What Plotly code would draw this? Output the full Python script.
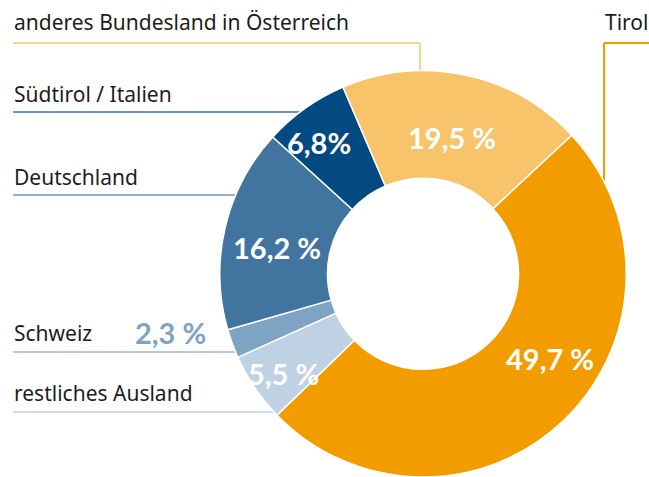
import plotly.graph_objects as go

W, H = 649, 477

# ---- data ----
categories = ["Tirol", "restliches Ausland", "Schweiz", "Deutschland",
              "Südtirol / Italien", "anderes Bundesland in Österreich"]
values = [49.7, 5.5, 2.3, 16.2, 6.8, 19.5]
value_sep = [" ", " ", " ", " ", "", " "]
colors = ["#F39C00", "#BFD2E3", "#7FA3C3", "#41759F", "#034A82", "#F7C46A"]
value_label_colors = ["#FFFFFF", "#FFFFFF", "#7FA3C3", "#FFFFFF", "#FFFFFF", "#FFFFFF"]
# label anchor positions (pixels)
value_label_pos = [(550, 358), (283, 373), (170, 332), (277, 247), (319, 142), (452, 138)]

def px(x):
    return x / W

def py(y):
    return 1 - y / H

value_text = [f"{v:.1f}".replace(".", ",") + s + "%" for v, s in zip(values, value_sep)]

fig = go.Figure(go.Pie(
    labels=categories,
    values=values,
    text=value_text,
    textinfo="none",
    marker=dict(colors=colors, line=dict(color="white", width=1.5)),
    hole=0.47,
    sort=False,
    direction="clockwise",
    rotation=47,
    domain=dict(x=[0.3036, 1.0], y=[0.0, 0.852]),
    showlegend=False,
    hoverinfo="label+text",
))

label_font = dict(family="Noto Sans", size=21, color="#1D1D1B")

left_labels = [
    ("anderes Bundesland in Österreich", 12, 22, 43, 420, "#F7C46A"),
    ("Südtirol / Italien", 12, 94, 112, 312, "#3F74A4"),
    ("Deutschland", 12, 177, 195, 248, "#6F97BE"),
    ("Schweiz", 12, 333, 352, 244, "#9DB9D4"),
    ("restliches Ausland", 12, 393, 412, 278, "#BFD2E3"),
]

shapes = []
annotations = []
for txt, x0, yt, yl, xe, lc in left_labels:
    annotations.append(dict(text=txt, x=px(x0), y=py(yt), xref="paper", yref="paper",
                            xanchor="left", yanchor="middle", showarrow=False,
                            font=label_font))
    shapes.append(dict(type="line", xref="paper", yref="paper", layer="below",
                       x0=px(13), x1=px(xe), y0=py(yl), y1=py(yl),
                       line=dict(color=lc, width=1.5)))

shapes.append(dict(type="line", xref="paper", yref="paper", layer="below",
                   x0=px(420), x1=px(420), y0=py(43), y1=py(90),
                   line=dict(color="#F7C46A", width=1.5)))

annotations.append(dict(text="Tirol", x=px(603), y=py(22), xref="paper", yref="paper",
                        xanchor="left", yanchor="middle", showarrow=False, font=label_font))
shapes.append(dict(type="line", xref="paper", yref="paper", layer="below",
                   x0=px(604), x1=px(660), y0=py(43), y1=py(43),
                   line=dict(color="#F39C00", width=2)))
shapes.append(dict(type="line", xref="paper", yref="paper", layer="below",
                   x0=px(604), x1=px(604), y0=py(43), y1=py(200),
                   line=dict(color="#F39C00", width=2)))

for t, (lx, ly), c in zip(value_text, value_label_pos, value_label_colors):
    annotations.append(dict(text=t, x=px(lx), y=py(ly), xref="paper", yref="paper",
                            xanchor="center", yanchor="middle", showarrow=False,
                            font=dict(family="Lato", size=29, color=c, weight="bold")))

fig.update_layout(
    width=W, height=H,
    margin=dict(l=0, r=0, t=0, b=0),
    paper_bgcolor="white",
    plot_bgcolor="white",
    shapes=shapes,
    annotations=annotations,
)

fig.write_html("out.html",
               config={"displayModeBar": False},
               post_script="document.body.style.margin='0';document.body.style.overflow='hidden';")
